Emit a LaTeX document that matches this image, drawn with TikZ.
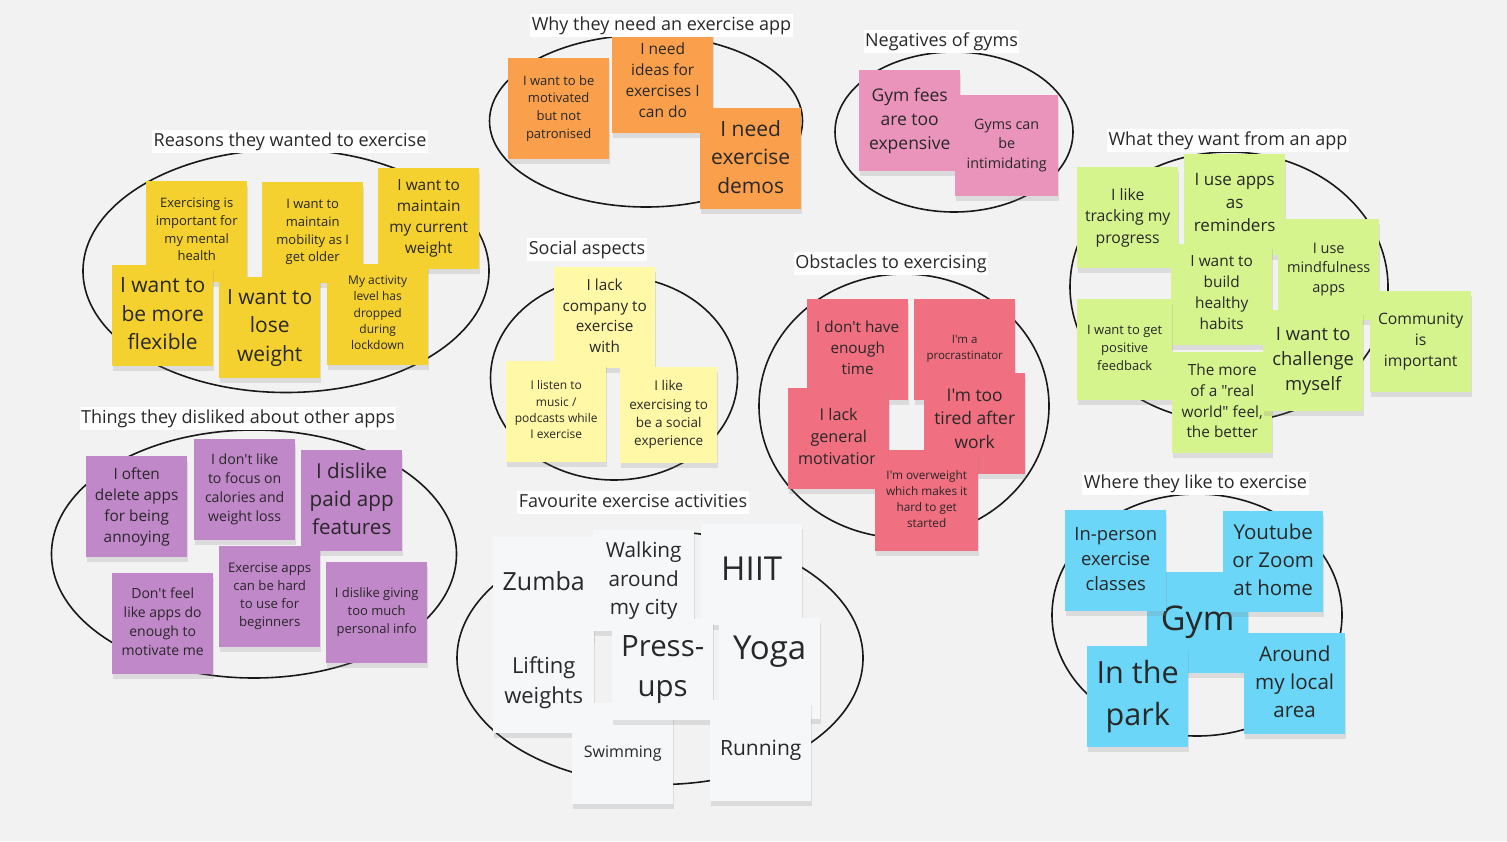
\documentclass[tikz,border=0pt]{standalone}
\usepackage{fontspec}
\setmainfont{Open Sans}[Ligatures=TeXOff]
\usepackage{tikz}
\usetikzlibrary{shapes.geometric, shadows}
\definecolor{boardgrey}{RGB}{242,242,242}
\definecolor{inkgrey}{RGB}{40,40,40}
\definecolor{noteyellow}{RGB}{245,209,47}
\definecolor{noteorange}{RGB}{250,160,76}
\definecolor{notepink}{RGB}{234,148,188}
\definecolor{notelime}{RGB}{214,244,142}
\definecolor{notecream}{RGB}{255,248,166}
\definecolor{notered}{RGB}{240,111,128}
\definecolor{noteviolet}{RGB}{192,135,201}
\definecolor{notewhite}{RGB}{246,247,249}
\definecolor{notecyan}{RGB}{108,214,248}

\begin{document}
\begin{tikzpicture}[x=1pt, y=-1pt, sz/.style={font=\fontsize{#1}{1.36\dimexpr#1pt\relax}\selectfont}]
    % Styles
    \tikzstyle{ring} = [ellipse, draw=black!90, line width=1.6pt, inner sep=0pt]
    \tikzstyle{heading} = [rectangle, fill=white, inner xsep=1.5pt, inner ysep=3pt, text height=13.5pt, text depth=3.5pt, text=inkgrey, sz=18]
    \tikzstyle{note} = [rectangle, anchor=north west, minimum width=101, minimum height=101, inner sep=2pt, align=center, text=inkgrey, execute at end node={\rule[-4pt]{0pt}{4pt}}, drop shadow={shadow xshift=1pt, shadow yshift=-5pt, opacity=0.2}]

    \fill[boardgrey] (0,0) rectangle (1507,841);
    \useasboundingbox (0,0) rectangle (1507,841);

    % Clusters
    \node (reasonsring) [ring, minimum width=406, minimum height=243] at (286,271) {};
    \node (whyring) [ring, minimum width=313, minimum height=172] at (646,121) {};
    \node (gymsring) [ring, minimum width=238, minimum height=160] at (954,132) {};
    \node (wantring) [ring, minimum width=318, minimum height=270] at (1229,287) {};
    \node (socialring) [ring, minimum width=247, minimum height=204] at (614,378) {};
    \node (obstaclering) [ring, minimum width=290, minimum height=264] at (904,406) {};
    \node (dislikering) [ring, minimum width=405, minimum height=248] at (254,554) {};
    \node (favring) [ring, minimum width=406, minimum height=253] at (660,658) {};
    \node (wherering) [ring, minimum width=290, minimum height=242] at (1197,615) {};

    % Reasons they wanted to exercise
    \node (reason1) [note, fill=noteyellow, sz=13] at (146,181) {Exercising is\\important for\\my mental\\health};
    \node (reason2) [note, fill=noteyellow, sz=13] at (262,182) {I want to\\maintain\\mobility as I\\get older};
    \node (reason3) [note, fill=noteyellow, sz=15.4] at (378,168) {I want to\\maintain\\my current\\weight};
    \node (reason4) [note, fill=noteyellow, sz=21] at (112,265) {I want to\\be more\\flexible};
    \node (reason5) [note, fill=noteyellow, sz=21] at (219,277) {I want to\\lose\\weight};
    \node (reason6) [note, fill=noteyellow, sz=12] at (327,264) {My activity\\level has\\dropped\\during\\lockdown};

    % Why they need an exercise app
    \node (why1) [note, fill=noteorange, sz=13] at (508,58) {I want to be\\motivated\\but not\\patronised};
    \node (why2) [note, fill=noteorange, sz=15.5, minimum height=102] at (612,31) {I need\\ideas for\\exercises I\\can do};
    \node (why3) [note, fill=noteorange, sz=21] at (700,108) {I need\\exercise\\demos};

    % Negatives of gyms
    \node (gym1) [note, fill=notepink, sz=17.5] at (859,70) {Gym fees\\are too\\expensive};
    \node (gym2) [note, fill=notepink, sz=14.3, minimum width=103] at (955,95) {Gyms can\\be\\intimidating};

    % What they want from an app
    \node (want1) [note, fill=notelime, sz=15.8] at (1077,167) {I like\\tracking my\\progress};
    \node (want2) [note, fill=notelime, sz=17] at (1184,154) {I use apps\\as\\reminders};
    \node (want3) [note, fill=notelime, sz=14.5] at (1278,219) {I use\\mindfulness\\apps};
    \node (want4) [note, fill=notelime, sz=15.4] at (1171,244) {I want to\\build\\healthy\\habits};
    \node (want5) [note, fill=notelime, sz=13, minimum width=95] at (1077,299) {I want to get\\positive\\feedback};
    \node (want6) [note, fill=notelime, sz=15.4, minimum width=100] at (1172,352) {The more\\of a "real\\world" feel,\\the better};
    \node (want7) [note, fill=notelime, sz=18.4, minimum width=100] at (1263,310) {I want to\\challenge\\myself};
    \node (want8) [note, fill=notelime, sz=15.7] at (1370,291) {Community\\is\\important};

    % Social aspects
    \node (social1) [note, fill=notecream, sz=15.3] at (554,267) {I lack\\company to\\exercise\\with};
    \node (social2) [note, fill=notecream, sz=12, minimum width=100] at (506,361) {I listen to\\music /\\podcasts while\\I exercise};
    \node (social3) [note, fill=notecream, sz=13.5, minimum width=97, minimum height=96] at (620,367) {I like\\exercising to\\be a social\\experience};

    % Obstacles to exercising
    \node (block1) [note, fill=notered, sz=15.3] at (807,299) {I don't have\\enough\\time};
    \node (block2) [note, fill=notered, sz=11.5] at (914,299) {I'm a\\procrastinator};
    \node (block3) [note, fill=notered, sz=17.4, execute at end node={\rule[-10pt]{0pt}{10pt}}] at (924,373) {I'm too\\tired after\\work};
    \node (block4) [note, fill=notered, sz=16.2] at (788,388) {I lack\\general\\motivation};
    \node (block5) [note, fill=notered, sz=11.8, minimum width=103] at (875,450) {I'm overweight\\which makes it\\hard to get\\started};

    % Things they disliked about other apps
    \node (dislike1) [note, fill=noteviolet, sz=15.4] at (86,456) {I often\\delete apps\\for being\\annoying};
    \node (dislike2) [note, fill=noteviolet, sz=14.1] at (194,439) {I don't like\\to focus on\\calories and\\weight loss};
    \node (dislike3) [note, fill=noteviolet, sz=20.6] at (301,450) {I dislike\\paid app\\features};
    \node (dislike4) [note, fill=noteviolet, sz=13.2] at (219,546) {Exercise apps\\can be hard\\to use for\\beginners};
    \node (dislike5) [note, fill=noteviolet, sz=14] at (112,573) {Don't feel\\like apps do\\enough to\\motivate me};
    \node (dislike6) [note, fill=noteviolet, sz=13] at (326,562) {I dislike giving\\too much\\personal info};

    % Favourite exercise activities
    \node (fav1) [note, fill=notewhite, sz=25, text depth=13pt] at (493,537) {Zumba};
    \node (fav2) [note, fill=notewhite, sz=20.7] at (593,530) {Walking\\around\\my city};
    \node (fav3) [note, fill=notewhite, sz=33, text depth=12pt] at (701,524) {HIIT};
    \node (fav4) [note, fill=notewhite, sz=22] at (493,632) {Lifting\\weights};
    \node (fav7) [note, fill=notewhite, sz=16] at (572,703) {Swimming};
    \node (fav6) [note, fill=notewhite, sz=33, text depth=41pt] at (719,618) {Yoga};
    \node (fav5) [note, fill=notewhite, sz=29.4] at (612,619) {Press-\\ups};
    \node (fav8) [note, fill=notewhite, sz=21] at (710,700) {Running};

    % Where they like to exercise
    \node (place3) [note, fill=notecyan, sz=34] at (1147,572) {Gym};
    \node (place1) [note, fill=notecyan, sz=18.4] at (1065,510) {In-person\\exercise\\classes};
    \node (place2) [note, fill=notecyan, sz=20.5, minimum width=100] at (1223,511) {Youtube\\or Zoom\\at home};
    \node (place4) [note, fill=notecyan, sz=30.6] at (1087,646) {In the\\park};
    \node (place5) [note, fill=notecyan, sz=20.6] at (1244,633) {Around\\my local\\area};

    % Headings
    \node (reasonstitle) [heading] at (290,141) {Reasons they wanted to exercise};
    \node (whytitle) [heading] at (661.5,25) {Why they need an exercise app};
    \node (gymstitle) [heading] at (941.5,41) {Negatives of gyms};
    \node (wanttitle) [heading] at (1228,140) {What they want from an app};
    \node (socialtitle) [heading] at (587,249) {Social aspects};
    \node (obstacletitle) [heading] at (891,263) {Obstacles to exercising};
    \node (disliketitle) [heading] at (238,418) {Things they disliked about other apps};
    \node (favtitle) [heading] at (633,502) {Favourite exercise activities};
    \node (wheretitle) [heading] at (1195.5,483) {Where they like to exercise};
\end{tikzpicture}
\end{document}
